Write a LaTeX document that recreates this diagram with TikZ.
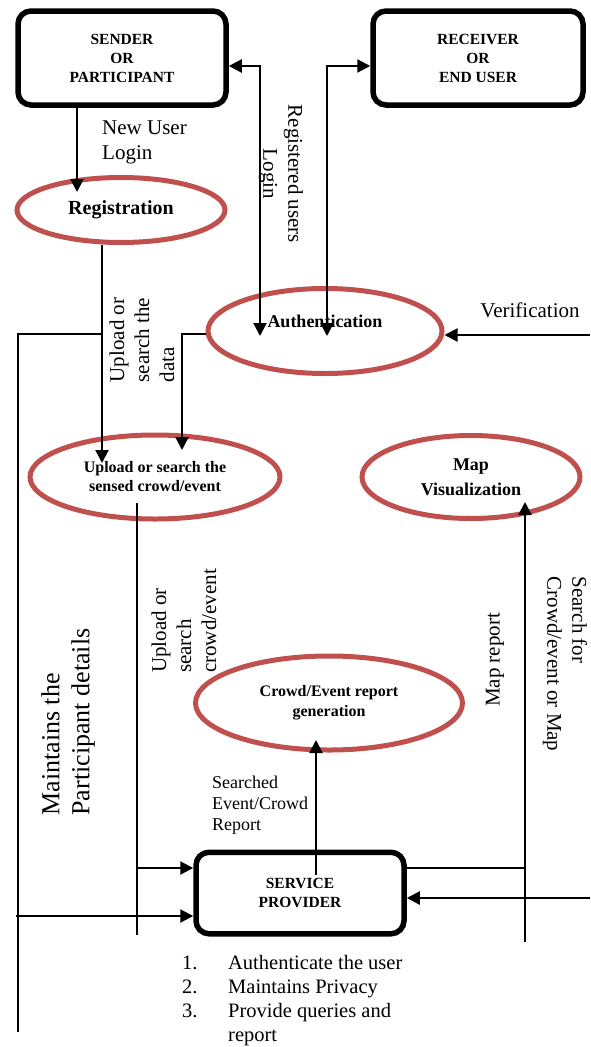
\documentclass[tikz,border=0pt]{standalone}
\usepackage{fontspec}
\setmainfont{Liberation Serif}
\usetikzlibrary{arrows.meta,shapes.geometric}
\definecolor{procred}{RGB}{192,80,77}

\begin{document}
\begin{tikzpicture}[x=1pt,y=-1pt,
  actor/.style={draw=black,line width=5.5pt,rounded corners=13pt,minimum width=208pt,minimum height=94pt,inner sep=0pt,align=center,font=\fontsize{15.5}{19}\selectfont\bfseries},
  proc/.style={ellipse,draw=procred,line width=5pt,inner sep=0pt,align=center,font=\fontsize{16}{19}\selectfont\bfseries},
  flow/.style={line width=2.2pt,-{Triangle[length=13pt,width=13pt]}},
  both/.style={line width=2.2pt,{Triangle[length=13pt,width=13pt]}-{Triangle[length=13pt,width=13pt]}},
  wire/.style={line width=2pt},
  txt/.style={inner sep=0pt,align=left,font=\fontsize{21}{25}\selectfont}]
\useasboundingbox (0,0) rectangle (590,1047);
\node[actor] (sender) at (122,58) {SENDER\\OR\\PARTICIPANT};
\node[actor,minimum width=210pt] (receiver) at (478,58) {RECEIVER\\OR\\END USER};
\node[proc,minimum width=208pt,minimum height=65pt,font=\fontsize{20}{24}\selectfont\bfseries] (reg) at (121,210) {Registration};
\node[proc,minimum width=234pt,minimum height=85pt,font=\fontsize{18}{22}\selectfont\bfseries,text depth=20pt] (auth) at (325,331) {Authentication};
\node[proc,minimum width=250pt,minimum height=84pt] (upl) at (155,477) {Upload or search the\\sensed crowd/event};
\node[proc,minimum width=218pt,minimum height=83pt,font=\fontsize{18}{25}\selectfont\bfseries] (map) at (471,477) {Map\\Visualization};
\node[proc,minimum width=267pt,minimum height=94pt,font=\fontsize{16}{20}\selectfont\bfseries] (crowd) at (329,703) {Crowd/Event report\\generation};
\node[actor,minimum height=81.5pt] (sp) at (300,893) {SERVICE\\PROVIDER};

\coordinate (toprow) at (300,66);
\coordinate (newin) at (77,192);
\coordinate (loginA) at (260,336);
\coordinate (loginB) at (327,336);
\coordinate (verin) at (590,335);
\coordinate (regout) at (102,463);
\coordinate (tap) at (102,334);
\coordinate (leftend) at (18,1032);
\coordinate (authout) at (182,450);
\coordinate (uplout) at (137,503);
\coordinate (uplend) at (137,935);
\coordinate (upltap) at (137,868);
\coordinate (partin) at (16,916);
\coordinate (spup) at (316,875);
\coordinate (crowdin) at (316,740);
\coordinate (maptap) at (525,868);
\coordinate (mapfoot) at (525,942);
\coordinate (mapin) at (525,502);
\coordinate (queryin) at (590,898);

\draw[flow] (sender.south -| newin) -- (newin);
\draw[both] (sender.east |- toprow) -| (loginA);
\draw[both] (receiver.west |- toprow) -| (loginB);
\draw[flow] (verin) -- (verin -| auth.east);
\draw[flow] (reg.south -| regout) -- (regout);
\draw[wire] (tap) -| (leftend);
\draw[flow] (auth.west |- tap) -| (authout);
\draw[wire] (uplout) -- (uplend);
\draw[flow] (upltap) -- (upltap -| sp.west);
\draw[flow] (partin) -- (partin -| sp.west);
\draw[flow] (spup) -- (crowdin);
\draw[wire] (sp.east |- maptap) -- (maptap);
\draw[flow] (mapfoot) -- (mapin);
\draw[flow] (queryin) -- (queryin -| sp.east);

\node[txt,anchor=west] (newlbl) at (102,142) {New User\\Login};
\node[txt,rotate=-90,align=center] (reglbl) at (281,174) {Registered users\\Login};
\node[txt] (verlbl) at (530,310) {Verification};
\node[txt,rotate=90] (upllbl) at (142,340) {Upload or\\search the\\data};
\node[txt,rotate=90] (crwlbl) at (184,621) {Upload or\\search\\crowd/event};
\node[txt,rotate=90,font=\fontsize{26}{30}\selectfont] (mntlbl) at (68,722) {Maintains the\\Participant details};
\node[txt,anchor=north west,font=\fontsize{18}{21}\selectfont] (srchlbl) at (212,776) {Searched\\Event/Crowd\\Report};
\node[txt,rotate=90] (maplbl) at (495,660) {Map report};
\node[txt,rotate=-90] (qrylbl) at (565,664) {Search for\\Crowd/event or Map};
\node[txt,anchor=north west,font=\fontsize{20.5}{24}\selectfont] (duties) at (182,955) {\makebox[46pt][l]{1.}Authenticate the user\\\makebox[46pt][l]{2.}Maintains Privacy\\\makebox[46pt][l]{3.}Provide queries and\\\hspace*{46pt}report};
\end{tikzpicture}
\end{document}
